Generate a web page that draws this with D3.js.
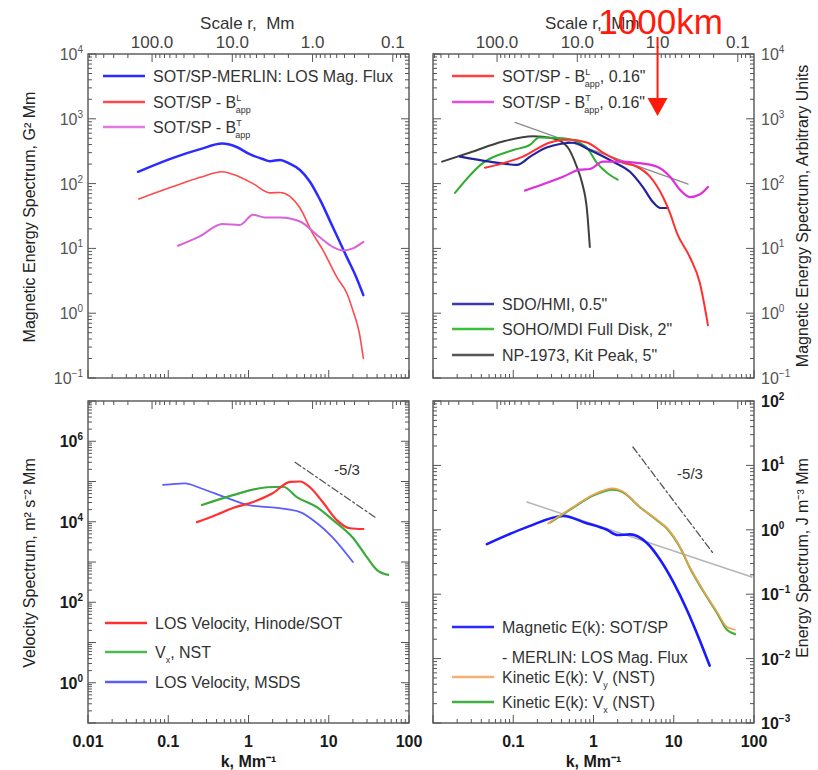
<!DOCTYPE html>
<html><head><meta charset="utf-8">
<script src="https://cdn.jsdelivr.net/npm/d3@7"></script>
<style>body{margin:0;background:#fff;} svg{font-family:"Liberation Sans",Arial,sans-serif;}</style>
</head><body><svg id="c" width="818" height="770"></svg>
<script>
// ---------------- data ----------------
const kTicks = [0.01, 0.1, 1, 10, 100];
const rTicks = [100, 10, 1, 0.1];
const rTickLabels = ["100.0", "10.0", "1.0", "0.1"];

// top-left: magnetic energy spectra, G^2 Mm  [k (Mm^-1), E]
const tlMerlin = [[0.042,152],[0.115,250],[0.25,340],[0.47,415],[0.7,370],[1.05,282],[1.5,240],[1.85,222],[2.47,232],[3.2,205],[4.38,162],[5.83,107],[7.8,56],[11.3,21],[16.9,7.2],[22,3.6],[27,1.9]];
const tlBL = [[0.043,58],[0.115,90],[0.25,125],[0.47,152],[0.65,138],[1.14,100],[1.85,72],[2.47,73],[4.38,42],[6.3,17],[8.5,9.3],[12.6,3.6],[16.9,2.0],[20,1.1],[24,0.5],[27,0.2]];
const tlBT = [[0.132,11],[0.25,15.5],[0.47,23.8],[0.78,23],[1.14,33],[1.6,30],[2.47,30],[4.38,26],[7.8,14.7],[11.3,10.5],[15,9.3],[20,10],[27,12.6]];

// top-right: magnetic energy spectra, arbitrary units
const trBL = [[0.0445,176],[0.132,261],[0.287,430],[0.468,479],[0.83,430],[1.31,301],[2.33,210],[3.48,182],[5.06,128],[7.35,62],[8.98,35],[11,17],[15.9,7.3],[21.2,2.9],[26.7,0.65]];
const trBT = [[0.14,78],[0.417,128],[0.68,164],[0.9,168],[1.31,218],[1.97,218],[3.48,209],[6.2,182],[9,128],[12,80],[15.9,62],[21,68],[26.7,89]];
const trHMI = [[0.0217,261],[0.051,218],[0.111,195],[0.163,261],[0.26,360],[0.56,427],[0.9,330],[1.75,218],[2.85,152],[4.1,89],[5.5,52],[6.8,42],[8.5,42]];
const trMDI = [[0.0188,72],[0.042,209],[0.1,330],[0.163,400],[0.21,516],[0.42,500],[0.8,373],[1.1,209],[1.47,147],[2.0,115]];
const trNP = [[0.013,218],[0.029,302],[0.0745,447],[0.176,537],[0.31,500],[0.47,373],[0.62,181],[0.72,103],[0.83,39],[0.9,10.5]];
const trRef = [[0.105,880],[15.1,98]];

// bottom-left: velocity spectra, m^2 s^-2 Mm
const blHinode = [[0.228,9800],[0.4,15000],[0.64,22000],[1.14,31000],[2.0,51000],[3.3,98000],[4.38,100000],[5.83,72000],[8.5,30000],[12.6,11000],[18.4,6900],[27,6600]];
const blNST = [[0.263,26000],[0.64,46000],[1.7,72000],[2.7,74000],[4.0,41000],[7.1,23000],[11.3,11000],[20,4000],[30,1300],[40,630],[55,480]];
const blMSDS = [[0.086,82000],[0.162,90000],[0.25,69000],[0.54,39000],[1.0,26000],[2.26,22000],[4.38,17400],[7.1,9300],[11.3,4000],[20,1000]];
const blSlope = [[3.8,300000],[37.7,13000]];

// bottom-right: energy spectra, J m^-3 Mm
const brMag = [[0.047,0.6],[0.148,1.1],[0.42,1.64],[0.8,1.28],[1.47,1.0],[2.0,0.83],[2.85,0.85],[4.6,0.63],[6.8,0.34],[10,0.15],[14.6,0.057],[21,0.0195],[28,0.0078]];
const brVy = [[0.27,1.25],[0.56,2.26],[0.99,3.5],[1.75,4.4],[2.3,3.95],[3.8,2.26],[6.2,1.42],[8.2,1.07],[12,0.54],[15.9,0.26],[23,0.118],[35,0.052],[46,0.031],[58,0.028]];
const brVx = [[0.29,1.3],[0.56,2.22],[0.99,3.4],[1.75,4.2],[2.3,3.85],[3.8,2.24],[6.2,1.4],[8.2,1.05],[12,0.53],[15.9,0.255],[23,0.115],[35,0.05],[46,0.028],[58,0.024]];
const brRef = [[0.148,2.7],[94,0.185]];
const brSlope = [[3.1,19.3],[30.8,0.436]];

// ---------------- drawing ----------------
const svg = d3.select("#c");
const panels = {
  tl: {x0: 88, x1: 409, y0: 54, y1: 378, yd: [1e-1, 1e4], yl: [4,3,2,1,0,-1], side: "left", top: true},
  tr: {x0: 433, x1: 754, y0: 54, y1: 378, yd: [1e-1, 1e4], yl: [4,3,2,1,0,-1], side: "right", top: true},
  bl: {x0: 88, x1: 409, y0: 401, y1: 723, yd: [1e-1, 1e7], yl: [6,4,2,0], side: "left", top: false},
  br: {x0: 433, x1: 754, y0: 401, y1: 723, yd: [1e-3, 1e2], yl: [2,1,0,-1,-2,-3], side: "right", top: false},
};
for (const p of Object.values(panels)) {
  p.x = d3.scaleLog().domain([0.01, 100]).range([p.x0, p.x1]);
  p.y = d3.scaleLog().domain(p.yd).range([p.y1, p.y0]);
}

function drawFrame(p) {
  const g = svg.append("g");
  const fc = "#555";
  // bottom k ticks
  for (let e = -2; e <= 2; e++) for (let m = 1; m < 10; m++) {
    const k = m * Math.pow(10, e);
    if (k > 100.0001) continue;
    const xx = p.x(k), L = m === 1 ? 8 : 4;
    g.append("line").attr("x1", xx).attr("x2", xx).attr("y1", p.y1).attr("y2", p.y1 - L).attr("stroke", fc).attr("stroke-width", 1);
  }
  // top r ticks (r = 2*pi/k)
  for (let e = -2; e <= 3; e++) for (let m = 1; m < 10; m++) {
    const r = m * Math.pow(10, e);
    const k = 2 * Math.PI / r;
    if (k < 0.01 || k > 100) continue;
    const xx = p.x(k), L = m === 1 ? 8 : 4;
    g.append("line").attr("x1", xx).attr("x2", xx).attr("y1", p.y0).attr("y2", p.y0 + L).attr("stroke", fc).attr("stroke-width", 1);
  }
  // y ticks
  const e0 = Math.round(Math.log10(p.yd[0])), e1 = Math.round(Math.log10(p.yd[1]));
  for (let e = e0; e <= e1; e++) for (let m = 1; m < 10; m++) {
    const v = m * Math.pow(10, e);
    if (v > p.yd[1] * 1.0001) continue;
    const yy = p.y(v), L = m === 1 ? 8 : 4;
    g.append("line").attr("x1", p.x0).attr("x2", p.x0 + L).attr("y1", yy).attr("y2", yy).attr("stroke", fc).attr("stroke-width", 1);
    g.append("line").attr("x1", p.x1).attr("x2", p.x1 - L).attr("y1", yy).attr("y2", yy).attr("stroke", fc).attr("stroke-width", 1);
  }
  g.append("rect").attr("x", p.x0).attr("y", p.y0).attr("width", p.x1 - p.x0).attr("height", p.y1 - p.y0)
    .attr("fill", "none").attr("stroke", fc).attr("stroke-width", 1.4);

  // y labels
  const bold = !p.top;
  p.yl.forEach(ex => {
    const yy = p.y(Math.pow(10, ex));
    const t = svg.append("text").attr("y", yy + 6).attr("font-size", 16)
      .attr("fill", bold ? "#1a1a1a" : "#555").attr("font-weight", bold ? "bold" : "normal");
    if (p.side === "left") t.attr("x", 83).attr("text-anchor", "end");
    else t.attr("x", 761).attr("text-anchor", "start");
    t.append("tspan").text("10");
    t.append("tspan").attr("dy", -7).attr("font-size", 10).text(String(ex).replace("-", "\u2212"));
  });
  // x labels
  if (p.top) {
    rTicks.forEach((r, i) => {
      svg.append("text").attr("x", p.x(2 * Math.PI / r)).attr("y", 48).attr("text-anchor", "middle")
        .attr("font-size", 17).attr("fill", "#444").text(rTickLabels[i]);
    });
    svg.append("text").attr("x", p.x(2 * Math.PI / 10) + 15).attr("y", 29).attr("text-anchor", "middle")
      .attr("font-size", 17).attr("fill", "#333").text("Scale r,\u00a0 Mm");
  } else {
    kTicks.forEach((k, i) => {
      if (p.side === "right" && i === 0) return;
      svg.append("text").attr("x", p.x(k)).attr("y", 747).attr("text-anchor", "middle")
        .attr("font-size", 16).attr("font-weight", "bold").attr("fill", "#1a1a1a").text(d3.format("~g")(k));
    });
    svg.append("text").attr("x", p.x(1)).attr("y", 767).attr("text-anchor", "middle")
      .attr("font-size", 16).attr("font-weight", "bold").attr("fill", "#1a1a1a").text("k, Mm\u207b\u00b9");
  }
}

function drawSeries(p, data, color, width, dash) {
  const line = d3.line().x(d => p.x(d[0])).y(d => p.y(d[1])).curve(d3.curveMonotoneX);
  const path = svg.append("path").datum(data).attr("d", line).attr("fill", "none")
    .attr("stroke", color).attr("stroke-width", width).attr("stroke-linejoin", "round").attr("stroke-linecap", "round");
  if (dash) path.attr("stroke-dasharray", dash);
}

// legend: parts = [[text, type]]  type: n | sup | sub | stack
function legendItem(x, y, color, parts, noLine) {
  if (!noLine) svg.append("line").attr("x1", x).attr("x2", x + 42).attr("y1", y).attr("y2", y)
    .attr("stroke", color).attr("stroke-width", 2.5);
  const t = svg.append("text").attr("x", x + 50).attr("y", y + 6).attr("font-size", 16).attr("fill", "#333");
  let off = 0;
  parts.forEach(pt => {
    const [s, ty] = pt;
    if (ty === "n") { t.append("tspan").attr("dy", -off).text(s); off = 0; }
    else if (ty === "sup") { t.append("tspan").attr("dy", -7 - off).attr("font-size", 9).text(s); off = -7; }
    else if (ty === "sub") { t.append("tspan").attr("dy", 5 - off).attr("font-size", 9).text(s); off = 5; }
    else if (ty === "stack") {
      t.append("tspan").attr("dy", -7 - off).attr("font-size", 9).text(s[0]);
      t.append("tspan").attr("dx", -s[0].length * 5.5).attr("dy", 12).attr("font-size", 9).text(s[1]);
      off = 5;
    }
  });
}

const P = panels;
Object.values(P).forEach(drawFrame);

// top-left
drawSeries(P.tl, tlMerlin, "#2b2bff", 2.5);
drawSeries(P.tl, tlBL, "#ff4a4a", 1.6);
drawSeries(P.tl, tlBT, "#d964d9", 2);
legendItem(103, 76, "#2b2bff", [["SOT/SP-MERLIN: LOS Mag. Flux", "n"]]);
legendItem(103, 102, "#ff4a4a", [["SOT/SP - B", "n"], [["L", "app"], "stack"]]);
legendItem(103, 127, "#e07ae0", [["SOT/SP - B", "n"], [["T", "app"], "stack"]]);

// top-right
drawSeries(P.tr, trRef, "#8a8a8a", 1.2);
drawSeries(P.tr, trNP, "#404040", 2);
drawSeries(P.tr, trMDI, "#2fae2f", 2);
drawSeries(P.tr, trHMI, "#22229e", 2.2);
drawSeries(P.tr, trBL, "#ff3030", 2);
drawSeries(P.tr, trBT, "#dd2fdd", 2.2);
legendItem(452, 76, "#ff4040", [["SOT/SP - B", "n"], [["L", "app"], "stack"], [", 0.16\"", "n"]]);
legendItem(452, 102, "#e050e0", [["SOT/SP - B", "n"], [["T", "app"], "stack"], [", 0.16\"", "n"]]);
legendItem(452, 304, "#3a3ab0", [["SDO/HMI, 0.5\"", "n"]]);
legendItem(452, 329, "#3ac03a", [["SOHO/MDI Full Disk, 2\"", "n"]]);
legendItem(452, 355, "#555555", [["NP-1973, Kit Peak, 5\"", "n"]]);

// bottom-left
drawSeries(P.bl, blSlope, "#555", 1.3, "7,3,2,3");
drawSeries(P.bl, blMSDS, "#5c5cff", 1.8);
drawSeries(P.bl, blNST, "#3aaa3a", 2.2);
drawSeries(P.bl, blHinode, "#ff3030", 2.2);
svg.append("text").attr("x", 347).attr("y", 475).attr("text-anchor", "middle").attr("font-size", 15).attr("fill", "#333").text("-5/3");
legendItem(105, 623, "#ff3030", [["LOS Velocity, Hinode/SOT", "n"]]);
legendItem(105, 652, "#50b850", [["V", "n"], ["x", "sub"], [", NST", "n"]]);
legendItem(105, 682, "#5c5cff", [["LOS Velocity, MSDS", "n"]]);

// bottom-right
drawSeries(P.br, brRef, "#b5b5b5", 1.5);
drawSeries(P.br, brSlope, "#555", 1.3, "7,3,2,3");
drawSeries(P.br, brMag, "#1a1aff", 2.6);
drawSeries(P.br, brVx, "#4aae3a", 2.2);
drawSeries(P.br, brVy, "#f0a050", 1.6);
svg.append("text").attr("x", 690).attr("y", 479).attr("text-anchor", "middle").attr("font-size", 15).attr("fill", "#333").text("-5/3");
legendItem(452, 627, "#2a2aff", [["Magnetic E(k): SOT/SP", "n"]]);
legendItem(452, 657, "#fff", [["- MERLIN: LOS Mag. Flux", "n"]], true);
legendItem(452, 677, "#f5b070", [["Kinetic E(k): V", "n"], ["y", "sub"], [" (NST)", "n"]]);
legendItem(452, 702, "#40b040", [["Kinetic E(k): V", "n"], ["x", "sub"], [" (NST)", "n"]]);

// axis titles
function vtitle(x, y, txt) {
  svg.append("text").attr("transform", `translate(${x},${y}) rotate(-90)`).attr("text-anchor", "middle")
    .attr("font-size", 16).attr("fill", "#222").text(txt);
}
vtitle(35, 217, "Magnetic Energy Spectrum, G\u00b2 Mm");
vtitle(35, 563, "Velocity Spectrum, m\u00b2 s\u207b\u00b2 Mm");
vtitle(808, 216, "Magnetic Energy Spectrum, Arbitrary Units");
vtitle(808, 558, "Energy Spectrum, J m\u207b\u00b3 Mm");

// red annotation (1 Mm = 1000 km)
const ax = P.tr.x(2 * Math.PI / 1);
svg.append("text").attr("x", ax + 3).attr("y", 34).attr("text-anchor", "middle").attr("font-size", 35)
  .attr("fill", "#ff1a0a").text("1000km");
svg.append("line").attr("x1", ax).attr("x2", ax).attr("y1", 37).attr("y2", 100).attr("stroke", "#ff1a0a").attr("stroke-width", 2);
svg.append("path").attr("d", `M${ax - 10},98 L${ax + 10},98 L${ax},116 Z`).attr("fill", "#ff1a0a");
</script></body></html>
